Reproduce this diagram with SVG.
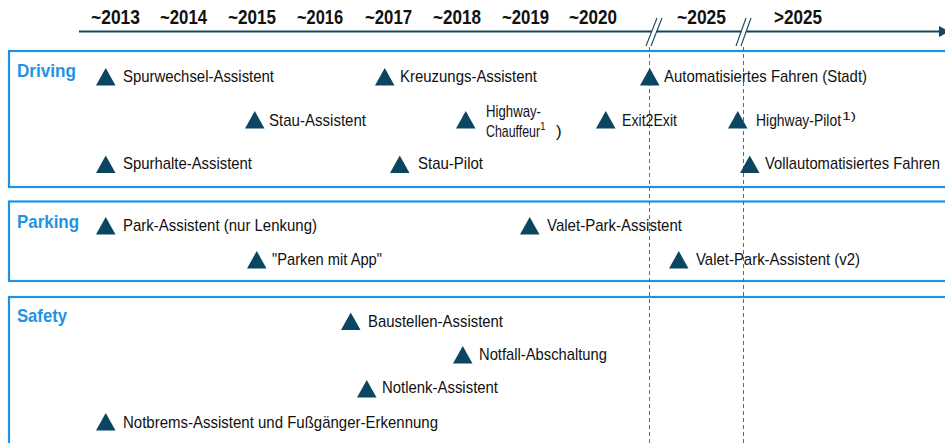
<svg xmlns="http://www.w3.org/2000/svg" xmlns:xlink="http://www.w3.org/1999/xlink" width="945" height="443" viewBox="0 0 945 443">
  <style>
    .year { font-family: "Liberation Sans", Arial, sans-serif; font-weight: bold; font-size: 20px; fill: #111; }
    .cat { font-family: "Liberation Sans", Arial, sans-serif; font-weight: bold; font-size: 19px; fill: #1e93e6; }
    .item { font-family: "Liberation Sans", Arial, sans-serif; font-size: 17px; fill: #111; }
    .sup { font-size: 10px; }
    .box { fill: none; stroke: #1e93e6; stroke-width: 2.2; }
    .axis { stroke: #17465a; stroke-width: 2.2; fill: none; }
    .brk { stroke: #17465a; stroke-width: 1.1; fill: none; }
    .guide { stroke: #666; stroke-width: 1; stroke-dasharray: 4 3; fill: none; }
    .tri { fill: #0b4660; }
  </style>
  <defs>
    <path id="tri" class="tri" d="M0,17.5 L9.75,0 L19.5,17.5 Z"/>
  </defs>

  <rect width="945" height="443" fill="#fff"/>

  <!-- category frames -->
  <g id="frame-driving"><rect class="box" x="9" y="51" width="960" height="136"/></g>
  <g id="frame-parking"><rect class="box" x="9" y="201.5" width="960" height="79.5"/></g>
  <g id="frame-safety"><rect class="box" x="9" y="297" width="960" height="170"/></g>

  <!-- timeline axis, breaks and period guides -->
  <g id="connectors">
    <line class="guide" x1="649.5" y1="47" x2="649.5" y2="443"/>
    <line class="guide" x1="743.5" y1="47" x2="743.5" y2="443"/>
    <line class="axis" x1="79" y1="31.5" x2="651.6" y2="31.5"/>
    <line class="axis" x1="656.6" y1="31.5" x2="741.2" y2="31.5"/>
    <line class="axis" x1="746.2" y1="31.5" x2="940" y2="31.5"/>
    <polygon points="939,26 949,31.5 939,37" fill="#17465a"/>
    <line class="brk" x1="646" y1="46" x2="657" y2="18"/>
    <line class="brk" x1="651" y1="46" x2="662" y2="18"/>
    <line class="brk" x1="736" y1="46" x2="746" y2="18"/>
    <line class="brk" x1="741" y1="46" x2="751" y2="18"/>
  </g>

  <!-- period labels -->
  <g id="years">
    <text class="year" x="91" y="24" textLength="49" lengthAdjust="spacingAndGlyphs">~2013</text>
    <text class="year" x="160" y="24" textLength="47" lengthAdjust="spacingAndGlyphs">~2014</text>
    <text class="year" x="228" y="24" textLength="48" lengthAdjust="spacingAndGlyphs">~2015</text>
    <text class="year" x="297" y="24" textLength="46" lengthAdjust="spacingAndGlyphs">~2016</text>
    <text class="year" x="365" y="24" textLength="47" lengthAdjust="spacingAndGlyphs">~2017</text>
    <text class="year" x="433" y="24" textLength="48" lengthAdjust="spacingAndGlyphs">~2018</text>
    <text class="year" x="502" y="24" textLength="47" lengthAdjust="spacingAndGlyphs">~2019</text>
    <text class="year" x="569" y="24" textLength="48" lengthAdjust="spacingAndGlyphs">~2020</text>
    <text class="year" x="677" y="24" textLength="49" lengthAdjust="spacingAndGlyphs">~2025</text>
    <text class="year" x="774" y="24" textLength="48" lengthAdjust="spacingAndGlyphs">&gt;2025</text>
  </g>

  <!-- category labels -->
  <g id="label-driving"><text class="cat" x="17" y="77" textLength="59" lengthAdjust="spacingAndGlyphs">Driving</text></g>
  <g id="label-parking"><text class="cat" x="17" y="228" textLength="62" lengthAdjust="spacingAndGlyphs">Parking</text></g>
  <g id="label-safety"><text class="cat" x="17" y="322" textLength="50" lengthAdjust="spacingAndGlyphs">Safety</text></g>

  <!-- Driving -->
  <g id="spurwechsel"><use xlink:href="#tri" x="96" y="68"/><text class="item" x="123" y="82" textLength="151" lengthAdjust="spacingAndGlyphs">Spurwechsel-Assistent</text></g>
  <g id="kreuzungs"><use xlink:href="#tri" x="375" y="68"/><text class="item" x="400" y="82" textLength="137" lengthAdjust="spacingAndGlyphs">Kreuzungs-Assistent</text></g>
  <g id="auto-stadt"><use xlink:href="#tri" x="640" y="68"/><text class="item" x="664" y="82" textLength="203" lengthAdjust="spacingAndGlyphs">Automatisiertes Fahren (Stadt)</text></g>
  <g id="stau-assistent"><use xlink:href="#tri" x="245" y="111"/><text class="item" x="269" y="126" textLength="97" lengthAdjust="spacingAndGlyphs">Stau-Assistent</text></g>
  <g id="highway-chauffeur"><use xlink:href="#tri" x="456" y="111"/>
    <text class="item" x="486" y="117" textLength="55" lengthAdjust="spacingAndGlyphs">Highway-</text>
    <text class="item" x="486" y="137" textLength="54" lengthAdjust="spacingAndGlyphs">Chauffeur</text>
    <text class="item sup" x="540" y="130">1</text>
    <text class="item" x="556" y="137">)</text>
  </g>
  <g id="exit2exit"><use xlink:href="#tri" x="596" y="111"/><text class="item" x="622" y="126" textLength="55" lengthAdjust="spacingAndGlyphs">Exit2Exit</text></g>
  <g id="highway-pilot"><use xlink:href="#tri" x="728" y="111"/>
    <text class="item" x="756" y="126" textLength="85" lengthAdjust="spacingAndGlyphs">Highway-Pilot</text>
    <text class="item sup" x="842" y="120" textLength="14" lengthAdjust="spacingAndGlyphs">1)</text>
  </g>
  <g id="spurhalte"><use xlink:href="#tri" x="96" y="155.5"/><text class="item" x="123" y="169" textLength="129" lengthAdjust="spacingAndGlyphs">Spurhalte-Assistent</text></g>
  <g id="stau-pilot"><use xlink:href="#tri" x="390" y="155.5"/><text class="item" x="418" y="169" textLength="65" lengthAdjust="spacingAndGlyphs">Stau-Pilot</text></g>
  <g id="vollauto"><use xlink:href="#tri" x="740" y="155.5"/><text class="item" x="765" y="169" textLength="175" lengthAdjust="spacingAndGlyphs">Vollautomatisiertes Fahren</text></g>

  <!-- Parking -->
  <g id="park-assistent"><use xlink:href="#tri" x="96" y="217"/><text class="item" x="123" y="231" textLength="194" lengthAdjust="spacingAndGlyphs">Park-Assistent (nur Lenkung)</text></g>
  <g id="parken-app"><use xlink:href="#tri" x="247" y="251"/><text class="item" x="272" y="265" textLength="110" lengthAdjust="spacingAndGlyphs">"Parken mit App"</text></g>
  <g id="valet"><use xlink:href="#tri" x="520" y="217"/><text class="item" x="547" y="231" textLength="135" lengthAdjust="spacingAndGlyphs">Valet-Park-Assistent</text></g>
  <g id="valet-v2"><use xlink:href="#tri" x="669" y="251"/><text class="item" x="696" y="265" textLength="164" lengthAdjust="spacingAndGlyphs">Valet-Park-Assistent (v2)</text></g>

  <!-- Safety -->
  <g id="baustellen"><use xlink:href="#tri" x="341" y="312.5"/><text class="item" x="368" y="327" textLength="135" lengthAdjust="spacingAndGlyphs">Baustellen-Assistent</text></g>
  <g id="notfall"><use xlink:href="#tri" x="453" y="346"/><text class="item" x="479" y="360" textLength="128" lengthAdjust="spacingAndGlyphs">Notfall-Abschaltung</text></g>
  <g id="notlenk"><use xlink:href="#tri" x="357" y="380"/><text class="item" x="382" y="393" textLength="116" lengthAdjust="spacingAndGlyphs">Notlenk-Assistent</text></g>
  <g id="notbrems"><use xlink:href="#tri" x="96" y="413"/><text class="item" x="123" y="428" textLength="315" lengthAdjust="spacingAndGlyphs">Notbrems-Assistent und Fußgänger-Erkennung</text></g>
</svg>
